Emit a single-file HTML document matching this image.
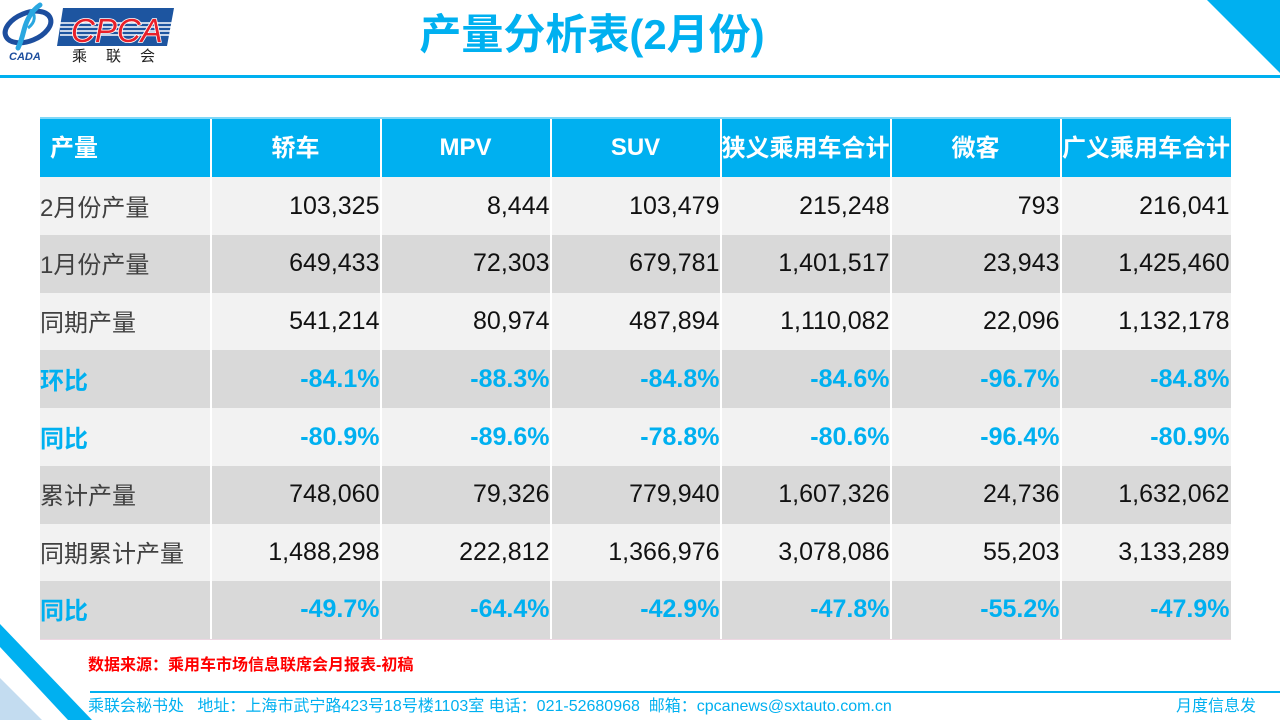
<!DOCTYPE html>
<html><head><meta charset="utf-8"><style>
*{margin:0;padding:0;box-sizing:border-box}
body{width:1280px;height:720px;position:relative;background:#fff;overflow:hidden;font-family:"Liberation Sans","Noto Sans CJK SC",sans-serif}
.abs{position:absolute}
.title{left:380px;width:424px;top:12px;height:46px;line-height:46px;text-align:center;font-size:42px;font-weight:bold;color:#00B0F0;white-space:nowrap}
.row{position:absolute;left:40px;width:1191px;height:58px}
.cell{position:absolute;top:0;height:100%;display:flex;align-items:center;white-space:nowrap}
.num{justify-content:flex-end;font-size:25px;color:#111}
.lab{font-size:24px;color:#404040;top:-1px}
.pct{justify-content:flex-end;font-size:25px;font-weight:bold;color:#00B0F0}
.plab{font-size:24px;font-weight:bold;color:#00B0F0;top:-1px}
.hd{justify-content:center;font-size:24px;font-weight:bold;color:#fff}
.cj{top:-3px}
.vl{position:absolute;top:119px;height:520px;width:2px;background:#fff}
</style></head><body>

<!-- logo -->
<svg class="abs" style="left:0;top:0" width="180" height="70" viewBox="0 0 180 70">
  <ellipse cx="28" cy="27" rx="24" ry="14" transform="rotate(-22 28 27)" fill="none" stroke="#1D4E9E" stroke-width="5"/>
  <path d="M40 5 C30 12 26 22 24 30 C22 38 20 44 18 48" fill="none" stroke="#2AA7E0" stroke-width="5" stroke-linecap="round"/>
  <path d="M30 10 C36 14 36 22 28 28" fill="none" stroke="#2AA7E0" stroke-width="3"/>
  <text x="9" y="60" font-family="Liberation Sans" font-size="11" font-weight="bold" font-style="italic" fill="#1D4E9E">CADA</text>
  <polygon points="63,8 174,8 167,46 57,46" fill="#1D55A0"/>
  <g stroke="#fff" stroke-width="1.4">
    <line x1="60" y1="23" x2="172" y2="23"/>
    <line x1="60" y1="27" x2="171" y2="27"/>
    <line x1="60" y1="31" x2="170" y2="31"/>
    <line x1="60" y1="35" x2="169" y2="35"/>
  </g>
  <text x="71" y="42" font-family="Liberation Sans" font-size="33" font-style="italic" fill="#E8202A" stroke="#fff" stroke-width="1.6" paint-order="stroke">CPCA</text>
  <text x="72" y="61" font-family="Noto Sans CJK SC" font-size="15" fill="#222" letter-spacing="19">乘联会</text>
</svg>

<div class="abs title">产量分析表(2月份)</div>
<svg class="abs" style="left:0;top:0" width="1280" height="720">
  <polygon points="1207,0 1280,0 1280,73" fill="#00B0F0"/>
  <rect x="0" y="75" width="1280" height="3" fill="#00B0F0"/>
  <rect x="40" y="117.5" width="1191" height="1" fill="#00B0F0"/>
  <polygon points="0,624 92,720 68,720 0,647" fill="#00B0F0"/>
  <polygon points="0,678 42,720 0,720" fill="#C3DCF0"/>
  <rect x="90" y="691" width="1190" height="2" fill="#00B0F0"/>
  <rect x="40" y="638.5" width="1191" height="1.2" fill="#E4C6D6"/>
</svg>

<!-- header -->
<div class="row" style="top:119px;background:#00B0F0">
  <div class="cell hd cj" style="left:10px;width:160px;justify-content:flex-start">产量</div>
  <div class="cell hd cj" style="left:171px;width:169px">轿车</div>
  <div class="cell hd" style="left:341px;width:169px">MPV</div>
  <div class="cell hd" style="left:511px;width:169px">SUV</div>
  <div class="cell hd cj" style="left:681px;width:169px">狭义乘用车合计</div>
  <div class="cell hd cj" style="left:851px;width:169px">微客</div>
  <div class="cell hd cj" style="left:1021px;width:170px">广义乘用车合计</div>
</div>

<div class="row" style="top:177px;background:#F2F2F2">
  <div class="cell lab" style="left:0;width:169px">2月份产量</div>
  <div class="cell num" style="left:171px;width:168.5px">103,325</div>
  <div class="cell num" style="left:341px;width:168.5px">8,444</div>
  <div class="cell num" style="left:511px;width:168.5px">103,479</div>
  <div class="cell num" style="left:681px;width:168.5px">215,248</div>
  <div class="cell num" style="left:851px;width:168.5px">793</div>
  <div class="cell num" style="left:1021px;width:168.5px">216,041</div>
</div>
<div class="row" style="top:234.75px;background:#D9D9D9">
  <div class="cell lab" style="left:0;width:169px">1月份产量</div>
  <div class="cell num" style="left:171px;width:168.5px">649,433</div>
  <div class="cell num" style="left:341px;width:168.5px">72,303</div>
  <div class="cell num" style="left:511px;width:168.5px">679,781</div>
  <div class="cell num" style="left:681px;width:168.5px">1,401,517</div>
  <div class="cell num" style="left:851px;width:168.5px">23,943</div>
  <div class="cell num" style="left:1021px;width:168.5px">1,425,460</div>
</div>
<div class="row" style="top:292.5px;background:#F2F2F2">
  <div class="cell lab" style="left:0;width:169px">同期产量</div>
  <div class="cell num" style="left:171px;width:168.5px">541,214</div>
  <div class="cell num" style="left:341px;width:168.5px">80,974</div>
  <div class="cell num" style="left:511px;width:168.5px">487,894</div>
  <div class="cell num" style="left:681px;width:168.5px">1,110,082</div>
  <div class="cell num" style="left:851px;width:168.5px">22,096</div>
  <div class="cell num" style="left:1021px;width:168.5px">1,132,178</div>
</div>
<div class="row" style="top:350.25px;background:#D9D9D9">
  <div class="cell plab" style="left:0;width:169px">环比</div>
  <div class="cell pct" style="left:171px;width:168.5px">-84.1%</div>
  <div class="cell pct" style="left:341px;width:168.5px">-88.3%</div>
  <div class="cell pct" style="left:511px;width:168.5px">-84.8%</div>
  <div class="cell pct" style="left:681px;width:168.5px">-84.6%</div>
  <div class="cell pct" style="left:851px;width:168.5px">-96.7%</div>
  <div class="cell pct" style="left:1021px;width:168.5px">-84.8%</div>
</div>
<div class="row" style="top:408px;background:#F2F2F2">
  <div class="cell plab" style="left:0;width:169px">同比</div>
  <div class="cell pct" style="left:171px;width:168.5px">-80.9%</div>
  <div class="cell pct" style="left:341px;width:168.5px">-89.6%</div>
  <div class="cell pct" style="left:511px;width:168.5px">-78.8%</div>
  <div class="cell pct" style="left:681px;width:168.5px">-80.6%</div>
  <div class="cell pct" style="left:851px;width:168.5px">-96.4%</div>
  <div class="cell pct" style="left:1021px;width:168.5px">-80.9%</div>
</div>
<div class="row" style="top:465.75px;background:#D9D9D9">
  <div class="cell lab" style="left:0;width:169px">累计产量</div>
  <div class="cell num" style="left:171px;width:168.5px">748,060</div>
  <div class="cell num" style="left:341px;width:168.5px">79,326</div>
  <div class="cell num" style="left:511px;width:168.5px">779,940</div>
  <div class="cell num" style="left:681px;width:168.5px">1,607,326</div>
  <div class="cell num" style="left:851px;width:168.5px">24,736</div>
  <div class="cell num" style="left:1021px;width:168.5px">1,632,062</div>
</div>
<div class="row" style="top:523.5px;background:#F2F2F2">
  <div class="cell lab" style="left:0;width:169px">同期累计产量</div>
  <div class="cell num" style="left:171px;width:168.5px">1,488,298</div>
  <div class="cell num" style="left:341px;width:168.5px">222,812</div>
  <div class="cell num" style="left:511px;width:168.5px">1,366,976</div>
  <div class="cell num" style="left:681px;width:168.5px">3,078,086</div>
  <div class="cell num" style="left:851px;width:168.5px">55,203</div>
  <div class="cell num" style="left:1021px;width:168.5px">3,133,289</div>
</div>
<div class="row" style="top:581.25px;height:57.25px;background:#D9D9D9">
  <div class="cell plab" style="left:0;width:169px">同比</div>
  <div class="cell pct" style="left:171px;width:168.5px">-49.7%</div>
  <div class="cell pct" style="left:341px;width:168.5px">-64.4%</div>
  <div class="cell pct" style="left:511px;width:168.5px">-42.9%</div>
  <div class="cell pct" style="left:681px;width:168.5px">-47.8%</div>
  <div class="cell pct" style="left:851px;width:168.5px">-55.2%</div>
  <div class="cell pct" style="left:1021px;width:168.5px">-47.9%</div>
</div>

<div class="vl" style="left:209.5px"></div>
<div class="vl" style="left:379.5px"></div>
<div class="vl" style="left:549.5px"></div>
<div class="vl" style="left:719.5px"></div>
<div class="vl" style="left:889.5px"></div>
<div class="vl" style="left:1059.5px"></div>

<div class="abs" style="left:88px;top:655px;font-size:16px;line-height:22px;font-weight:bold;color:#FF0000;white-space:nowrap">数据来源：乘用车市场信息联席会月报表-初稿</div>
<div class="abs" style="left:88px;top:696px;font-size:16px;line-height:22px;color:#00B0F0;white-space:nowrap">乘联会秘书处&nbsp;&nbsp;&nbsp;地址：上海市武宁路423号18号楼1103室 电话：021-52680968&nbsp;&nbsp;邮箱：cpcanews@sxtauto.com.cn</div>
<div class="abs" style="left:1176px;top:696px;font-size:16px;line-height:22px;color:#00B0F0;white-space:nowrap">月度信息发</div>

</body></html>
